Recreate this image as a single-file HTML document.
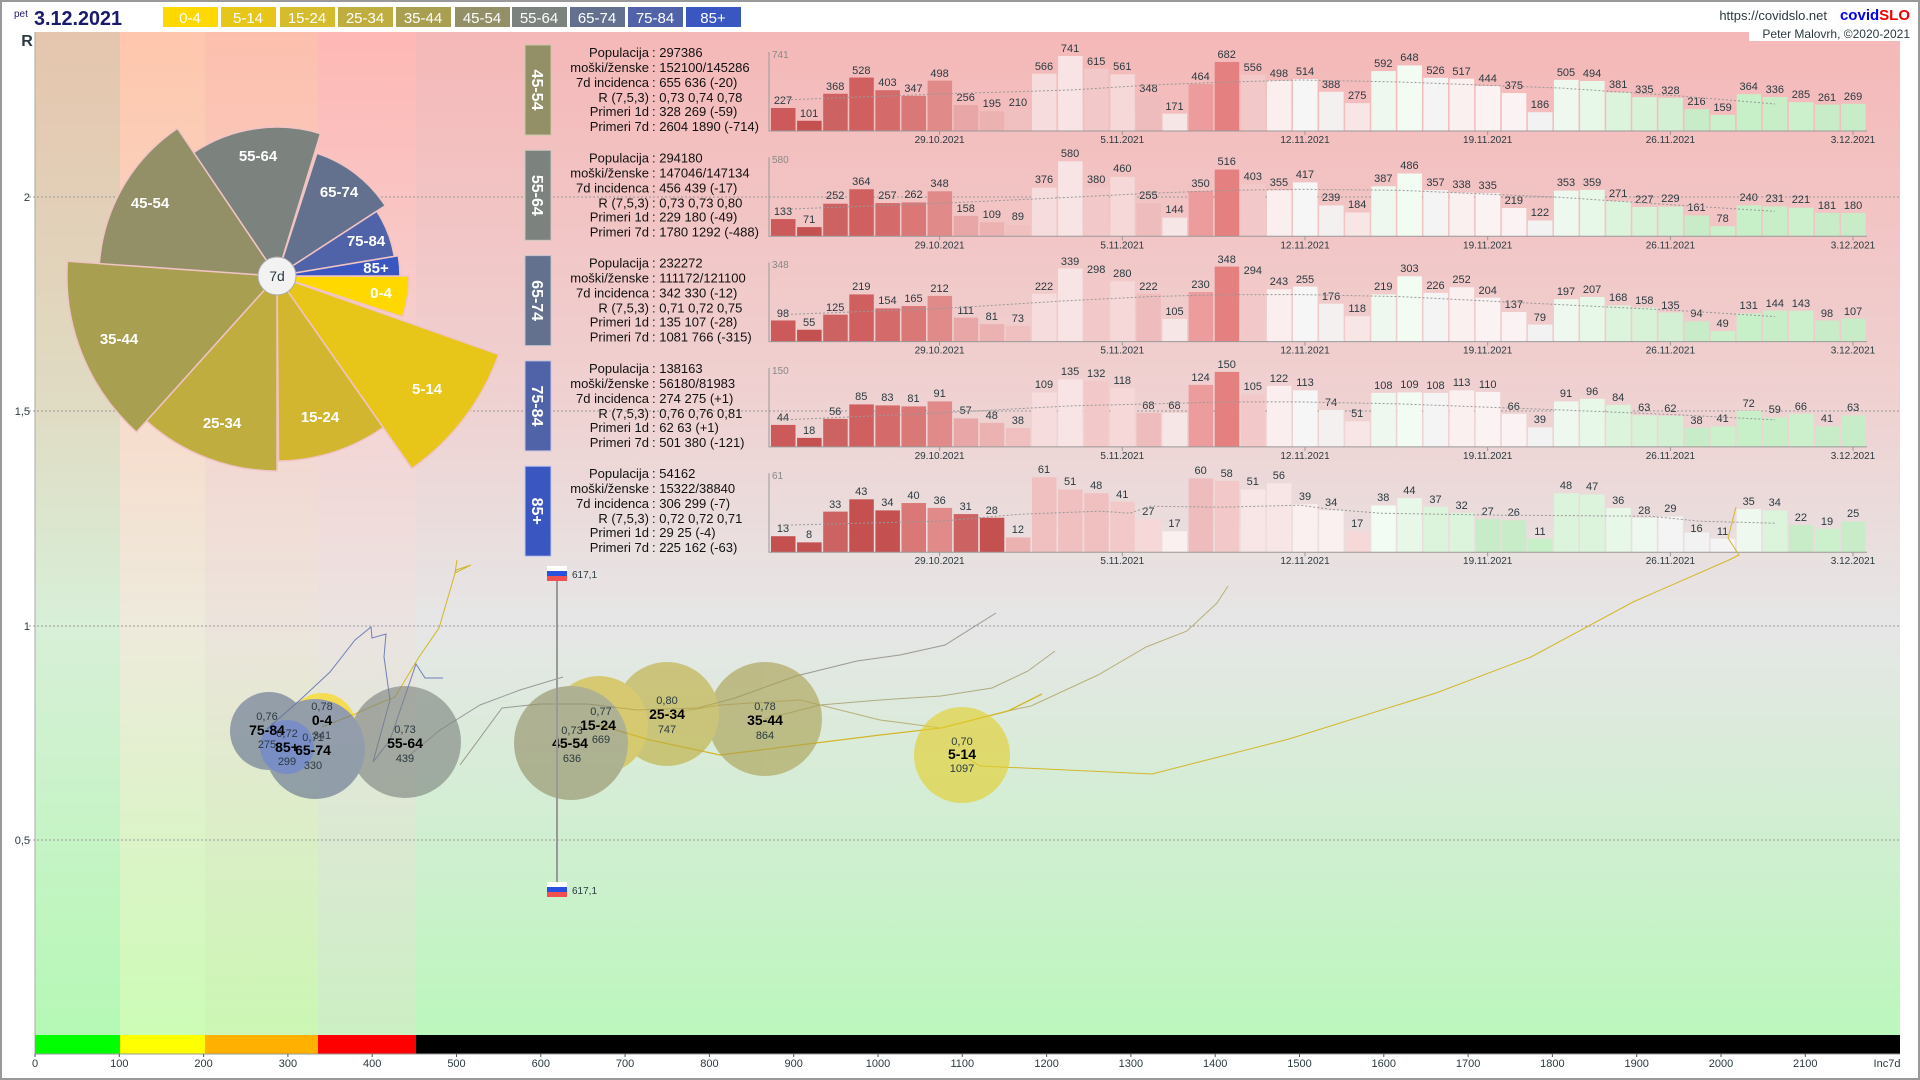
<!DOCTYPE html>
<html><head><meta charset="utf-8"><style>
html,body{margin:0;padding:0;width:1920px;height:1080px;overflow:hidden;background:#fff}
svg{display:block;font-family:"Liberation Sans",sans-serif}
.c0{fill:#cc5a5a}.c1{fill:#c45050}.c2{fill:#cc6262}.c3{fill:#d06060}.c4{fill:#d46a6a}.c5{fill:#da7878}.c6{fill:#e08a8a}.c7{fill:#e8a6a6}.c8{fill:#ecb2b2}.c9{fill:#f0c0c0}.c10{fill:#f6dcdc}.c11{fill:#f8e4e4}.c12{fill:#f2c8c8}.c13{fill:#f6d8d8}.c14{fill:#eebcbc}.c15{fill:#f6e6e6}.c16{fill:#ec9c9c}.c17{fill:#e48080}.c18{fill:#f2c8c8}.c19{fill:#faeeee}.c20{fill:#f6f6f6}.c21{fill:#f4f0f0}.c22{fill:#f8e6e6}.c23{fill:#eef8ee}.c24{fill:#f2fcf2}.c25{fill:#f4f4f4}.c26{fill:#faf0f0}.c27{fill:#fbf3f3}.c28{fill:#fbf3f3}.c29{fill:#f2f2f2}.c30{fill:#eef8ee}.c31{fill:#e8f8e8}.c32{fill:#dcf4dc}.c33{fill:#d8f2d8}.c34{fill:#d4f0d4}.c35{fill:#c8ecc8}.c36{fill:#ccf0cc}.c37{fill:#c8f0c8}.c38{fill:#c8eec8}.c39{fill:#ccf0cc}.c40{fill:#c8ecc8}.c41{fill:#c8ecc8}
.bl text{font-size:11px;fill:#2a3a40;text-anchor:middle}
.st text{font-size:13px;fill:#111}
.st .l{text-anchor:end}
.dt{font-size:10px;fill:#2a3a40;text-anchor:middle}
.pl{font-size:15px;fill:#fff;text-anchor:middle;font-weight:bold}
.bb .r{font-size:11px;fill:#2a3a40;text-anchor:middle}
.bb .n{font-size:14px;fill:#000;text-anchor:middle;font-weight:bold}
.ax{font-size:11px;fill:#2a3a40;text-anchor:middle}
</style></head><body>
<svg width="1920" height="1080" viewBox="0 0 1920 1080">
<defs>
<linearGradient id="g1" x1="0" y1="32" x2="0" y2="1035" gradientUnits="userSpaceOnUse"><stop offset="0" stop-color="#e5c5ad"/><stop offset="0.38" stop-color="#e0dcc4"/><stop offset="0.59" stop-color="#d8efd8"/><stop offset="1" stop-color="#b5f8b5"/></linearGradient>
<linearGradient id="g2" x1="0" y1="32" x2="0" y2="1035" gradientUnits="userSpaceOnUse"><stop offset="0" stop-color="#fec6ad"/><stop offset="0.38" stop-color="#f7dccc"/><stop offset="0.59" stop-color="#eeeadc"/><stop offset="1" stop-color="#ccfcb6"/></linearGradient>
<linearGradient id="g3" x1="0" y1="32" x2="0" y2="1035" gradientUnits="userSpaceOnUse"><stop offset="0" stop-color="#fdbfad"/><stop offset="0.38" stop-color="#f5d6d0"/><stop offset="0.59" stop-color="#ece4dc"/><stop offset="1" stop-color="#cbf7b3"/></linearGradient>
<linearGradient id="g4" x1="0" y1="32" x2="0" y2="1035" gradientUnits="userSpaceOnUse"><stop offset="0" stop-color="#feb8b5"/><stop offset="0.38" stop-color="#f4d4d4"/><stop offset="0.59" stop-color="#ebe3e1"/><stop offset="1" stop-color="#ccefc4"/></linearGradient>
<linearGradient id="g5" x1="0" y1="32" x2="0" y2="1035" gradientUnits="userSpaceOnUse"><stop offset="0" stop-color="#f5b8b8"/><stop offset="0.38" stop-color="#efd2d2"/><stop offset="0.59" stop-color="#e6e6e6"/><stop offset="1" stop-color="#bcf7bd"/></linearGradient>
</defs>
<rect x="1" y="1" width="1918" height="1078" fill="#fff" stroke="#999" stroke-width="2"/>
<!-- background bands -->
<rect x="35" y="32" width="85" height="1003" fill="url(#g1)"/>
<rect x="120" y="32" width="85" height="1003" fill="url(#g2)"/>
<rect x="205" y="32" width="113" height="1003" fill="url(#g3)"/>
<rect x="318" y="32" width="98" height="1003" fill="url(#g4)"/>
<rect x="416" y="32" width="1484" height="1003" fill="url(#g5)"/>
<line x1="35" y1="32" x2="35" y2="1055" stroke="#aaa"/>
<!-- grid -->
<g stroke="#999" stroke-dasharray="2,2" stroke-width="1">
<line x1="29" y1="197" x2="1900" y2="197"/><line x1="29" y1="411" x2="1900" y2="411"/><line x1="29" y1="626" x2="1900" y2="626"/><line x1="29" y1="840" x2="1900" y2="840"/>
</g>
<g font-size="11" fill="#2a3a40" text-anchor="end"><text x="30" y="201">2</text><text x="30" y="415">1,5</text><text x="30" y="630">1</text><text x="30" y="844">0,5</text></g>
<text x="27" y="46" font-size="16" font-weight="bold" fill="#2a3a40" text-anchor="middle">R</text>
<!-- header -->
<text x="14" y="17" font-size="10" fill="#1a1a6a">pet</text>
<text x="34" y="25" font-size="20" font-weight="bold" fill="#1a1a6a" textLength="88" lengthAdjust="spacingAndGlyphs">3.12.2021</text>
<g font-size="15" fill="#fff" text-anchor="middle">
<rect x="163" y="7" width="55" height="20" fill="#ffd800"/><text x="190" y="23">0-4</text>
<rect x="221" y="7" width="55" height="20" fill="#e6c619"/><text x="248" y="23">5-14</text>
<rect x="280" y="7" width="55" height="20" fill="#d4bc2e"/><text x="307" y="23">15-24</text>
<rect x="338" y="7" width="55" height="20" fill="#bfae3f"/><text x="365" y="23">25-34</text>
<rect x="396" y="7" width="55" height="20" fill="#a99f50"/><text x="423" y="23">35-44</text>
<rect x="455" y="7" width="55" height="20" fill="#938f66"/><text x="482" y="23">45-54</text>
<rect x="512" y="7" width="55" height="20" fill="#7c827e"/><text x="539" y="23">55-64</text>
<rect x="570" y="7" width="55" height="20" fill="#63718f"/><text x="597" y="23">65-74</text>
<rect x="628" y="7" width="55" height="20" fill="#5062a8"/><text x="655" y="23">75-84</text>
<rect x="686" y="7" width="55" height="20" fill="#3a56c0"/><text x="713" y="23">85+</text>
</g>
<rect x="1749" y="28" width="151" height="13" fill="#fff"/>
<text x="1827" y="20" font-size="13" fill="#2a3a40" text-anchor="end">https://covidslo.net</text>
<text x="1910" y="20" font-size="15" font-weight="bold" text-anchor="end"><tspan fill="#0000ee">covid</tspan><tspan fill="#ee0000">SLO</tspan></text>
<text x="1910" y="38" font-size="12" fill="#2a3a40" text-anchor="end">Peter Malovrh, ©2020-2021</text>

<!-- pie -->
<g stroke="#f0c4c4" stroke-width="1.5">
<path d="M277,276 L409,276 A132,132 0 0 1 402.5,316.8Z" fill="#ffd800"/>
<path d="M277,276 L498.6,354.5 A235,235 0 0 1 411.9,468.5Z" fill="#e8c619"/>
<path d="M277,276 L383.1,427.5 A185,185 0 0 1 278.6,461Z" fill="#d3b630"/>
<path d="M277,276 L277,471 A195,195 0 0 1 146.5,420.9Z" fill="#bfae3f"/>
<path d="M277,276 L136.5,432 A210,210 0 0 1 67.4,261.3Z" fill="#a99f50"/>
<path d="M277,276 L99.4,263.6 A178,178 0 0 1 177.5,128.4Z" fill="#938f66"/>
<path d="M277,276 L193.7,152.5 A149,149 0 0 1 320.5,133.6Z" fill="#7c827e"/>
<path d="M277,276 L316.9,153.3 A129,129 0 0 1 385.2,205.7Z" fill="#63718f"/>
<path d="M277,276 L376.8,211.2 A119,119 0 0 1 394.3,256.4Z" fill="#5062a8"/>
<path d="M277,276 L398.3,255.7 A123,123 0 0 1 400,276Z" fill="#3a56c0"/>
</g>
<circle cx="277" cy="276" r="19" fill="#f2f2f2" stroke="#aaa"/>
<text x="277" y="281" font-size="14" fill="#2a3a40" text-anchor="middle">7d</text>
<g class="pl">
<text x="258" y="161">55-64</text><text x="339" y="197">65-74</text><text x="366" y="246">75-84</text><text x="376" y="273">85+</text><text x="381" y="298">0-4</text><text x="427" y="394">5-14</text><text x="320" y="422">15-24</text><text x="222" y="428">25-34</text><text x="119" y="344">35-44</text><text x="150" y="208">45-54</text>
</g>

<!-- PANELS -->
<!-- panel frames -->
<g id="frames">
<g>
<rect x="525" y="45" width="26" height="90" fill="#938f66" stroke="#c8c8a8"/>
<text transform="translate(532,90) rotate(90)" font-size="16" font-weight="bold" fill="#fff" text-anchor="middle">45-54</text>
<g class="st"><text class="l" x="649" y="57">Populacija</text><text x="652" y="57">: 297386</text>
<text class="l" x="649" y="72">moški/ženske</text><text x="652" y="72">: 152100/145286</text>
<text class="l" x="649" y="87">7d incidenca</text><text x="652" y="87">: 655 636 (-20)</text>
<text class="l" x="649" y="102">R (7,5,3)</text><text x="652" y="102">: 0,73 0,74 0,78</text>
<text class="l" x="649" y="116">Primeri 1d</text><text x="652" y="116">: 328 269 (-59)</text>
<text class="l" x="649" y="131">Primeri 7d</text><text x="652" y="131">: 2604 1890 (-714)</text></g>
<text x="772" y="58" font-size="10" fill="#888">741</text>
</g>
<g>
<rect x="525" y="150.3" width="26" height="90" fill="#7c827e" stroke="#c8c8c0"/>
<text transform="translate(532,195.3) rotate(90)" font-size="16" font-weight="bold" fill="#fff" text-anchor="middle">55-64</text>
<g class="st"><text class="l" x="649" y="162.3">Populacija</text><text x="652" y="162.3">: 294180</text>
<text class="l" x="649" y="177.3">moški/ženske</text><text x="652" y="177.3">: 147046/147134</text>
<text class="l" x="649" y="192.3">7d incidenca</text><text x="652" y="192.3">: 456 439 (-17)</text>
<text class="l" x="649" y="207.3">R (7,5,3)</text><text x="652" y="207.3">: 0,73 0,73 0,80</text>
<text class="l" x="649" y="221.3">Primeri 1d</text><text x="652" y="221.3">: 229 180 (-49)</text>
<text class="l" x="649" y="236.3">Primeri 7d</text><text x="652" y="236.3">: 1780 1292 (-488)</text></g>
<text x="772" y="163" font-size="10" fill="#888">580</text>
</g>
<g>
<rect x="525" y="255.6" width="26" height="90" fill="#63718f" stroke="#c0c4d0"/>
<text transform="translate(532,300.6) rotate(90)" font-size="16" font-weight="bold" fill="#fff" text-anchor="middle">65-74</text>
<g class="st"><text class="l" x="649" y="267.6">Populacija</text><text x="652" y="267.6">: 232272</text>
<text class="l" x="649" y="282.6">moški/ženske</text><text x="652" y="282.6">: 111172/121100</text>
<text class="l" x="649" y="297.6">7d incidenca</text><text x="652" y="297.6">: 342 330 (-12)</text>
<text class="l" x="649" y="312.6">R (7,5,3)</text><text x="652" y="312.6">: 0,71 0,72 0,75</text>
<text class="l" x="649" y="326.6">Primeri 1d</text><text x="652" y="326.6">: 135 107 (-28)</text>
<text class="l" x="649" y="341.6">Primeri 7d</text><text x="652" y="341.6">: 1081 766 (-315)</text></g>
<text x="772" y="268" font-size="10" fill="#888">348</text>
</g>
<g>
<rect x="525" y="360.9" width="26" height="90" fill="#5062a8" stroke="#c0c4e0"/>
<text transform="translate(532,405.9) rotate(90)" font-size="16" font-weight="bold" fill="#fff" text-anchor="middle">75-84</text>
<g class="st"><text class="l" x="649" y="372.9">Populacija</text><text x="652" y="372.9">: 138163</text>
<text class="l" x="649" y="387.9">moški/ženske</text><text x="652" y="387.9">: 56180/81983</text>
<text class="l" x="649" y="402.9">7d incidenca</text><text x="652" y="402.9">: 274 275 (+1)</text>
<text class="l" x="649" y="417.9">R (7,5,3)</text><text x="652" y="417.9">: 0,76 0,76 0,81</text>
<text class="l" x="649" y="431.9">Primeri 1d</text><text x="652" y="431.9">: 62 63 (+1)</text>
<text class="l" x="649" y="446.9">Primeri 7d</text><text x="652" y="446.9">: 501 380 (-121)</text></g>
<text x="772" y="374" font-size="10" fill="#888">150</text>
</g>
<g>
<rect x="525" y="466.2" width="26" height="90" fill="#3a56c0" stroke="#c0c8f0"/>
<text transform="translate(532,511.2) rotate(90)" font-size="16" font-weight="bold" fill="#fff" text-anchor="middle">85+</text>
<g class="st"><text class="l" x="649" y="478.2">Populacija</text><text x="652" y="478.2">: 54162</text>
<text class="l" x="649" y="493.2">moški/ženske</text><text x="652" y="493.2">: 15322/38840</text>
<text class="l" x="649" y="508.2">7d incidenca</text><text x="652" y="508.2">: 306 299 (-7)</text>
<text class="l" x="649" y="523.2">R (7,5,3)</text><text x="652" y="523.2">: 0,72 0,72 0,71</text>
<text class="l" x="649" y="537.2">Primeri 1d</text><text x="652" y="537.2">: 29 25 (-4)</text>
<text class="l" x="649" y="552.2">Primeri 7d</text><text x="652" y="552.2">: 225 162 (-63)</text></g>
<text x="772" y="479" font-size="10" fill="#888">61</text>
</g>
</g>

<!-- bars: panel 1 -->
<g transform="translate(0,131) scale(1,-0.1012)">
<rect class="c0" x="771" y="0" width="24.5" height="227"/><rect class="c1" x="797.1" y="0" width="24.5" height="101"/><rect class="c2" x="823.2" y="0" width="24.5" height="368"/><rect class="c3" x="849.3" y="0" width="24.5" height="528"/><rect class="c4" x="875.4" y="0" width="24.5" height="403"/><rect class="c5" x="901.5" y="0" width="24.5" height="347"/><rect class="c6" x="927.6" y="0" width="24.5" height="498"/><rect class="c7" x="953.7" y="0" width="24.5" height="256"/><rect class="c8" x="979.8" y="0" width="24.5" height="195"/><rect class="c9" x="1005.9" y="0" width="24.5" height="210"/><rect class="c10" x="1032" y="0" width="24.5" height="566"/><rect class="c11" x="1058.1" y="0" width="24.5" height="741"/><rect class="c12" x="1084.2" y="0" width="24.5" height="615"/><rect class="c13" x="1110.3" y="0" width="24.5" height="561"/><rect class="c14" x="1136.4" y="0" width="24.5" height="348"/><rect class="c15" x="1162.5" y="0" width="24.5" height="171"/><rect class="c16" x="1188.6" y="0" width="24.5" height="464"/><rect class="c17" x="1214.7" y="0" width="24.5" height="682"/><rect class="c18" x="1240.8" y="0" width="24.5" height="556"/><rect class="c19" x="1266.9" y="0" width="24.5" height="498"/><rect class="c20" x="1293" y="0" width="24.5" height="514"/><rect class="c21" x="1319.1" y="0" width="24.5" height="388"/><rect class="c22" x="1345.2" y="0" width="24.5" height="275"/><rect class="c23" x="1371.3" y="0" width="24.5" height="592"/><rect class="c24" x="1397.4" y="0" width="24.5" height="648"/><rect class="c25" x="1423.5" y="0" width="24.5" height="526"/><rect class="c26" x="1449.6" y="0" width="24.5" height="517"/><rect class="c27" x="1475.7" y="0" width="24.5" height="444"/><rect class="c28" x="1501.8" y="0" width="24.5" height="375"/><rect class="c29" x="1527.9" y="0" width="24.5" height="186"/><rect class="c30" x="1554" y="0" width="24.5" height="505"/><rect class="c31" x="1580.1" y="0" width="24.5" height="494"/><rect class="c32" x="1606.2" y="0" width="24.5" height="381"/><rect class="c33" x="1632.3" y="0" width="24.5" height="335"/><rect class="c34" x="1658.4" y="0" width="24.5" height="328"/><rect class="c35" x="1684.5" y="0" width="24.5" height="216"/><rect class="c36" x="1710.6" y="0" width="24.5" height="159"/><rect class="c37" x="1736.7" y="0" width="24.5" height="364"/><rect class="c38" x="1762.8" y="0" width="24.5" height="336"/><rect class="c39" x="1788.9" y="0" width="24.5" height="285"/><rect class="c40" x="1815" y="0" width="24.5" height="261"/><rect class="c41" x="1841.1" y="0" width="24.5" height="269"/>
</g>
<g class="bl">
<text x="783" y="104">227</text><text x="809.1" y="117">101</text><text x="835.2" y="90">368</text><text x="861.3" y="74">528</text><text x="887.4" y="86">403</text><text x="913.5" y="92">347</text><text x="939.6" y="77">498</text><text x="965.7" y="101">256</text><text x="991.8" y="107">195</text><text x="1017.9" y="106">210</text><text x="1044" y="70">566</text><text x="1070.1" y="52">741</text><text x="1096.2" y="65">615</text><text x="1122.3" y="70">561</text><text x="1148.4" y="92">348</text><text x="1174.5" y="110">171</text><text x="1200.6" y="80">464</text><text x="1226.7" y="58">682</text><text x="1252.8" y="71">556</text><text x="1278.9" y="77">498</text><text x="1305" y="75">514</text><text x="1331.1" y="88">388</text><text x="1357.2" y="99">275</text><text x="1383.3" y="67">592</text><text x="1409.4" y="61">648</text><text x="1435.5" y="74">526</text><text x="1461.6" y="75">517</text><text x="1487.7" y="82">444</text><text x="1513.8" y="89">375</text><text x="1539.9" y="108">186</text><text x="1566" y="76">505</text><text x="1592.1" y="77">494</text><text x="1618.2" y="88">381</text><text x="1644.3" y="93">335</text><text x="1670.4" y="94">328</text><text x="1696.5" y="105">216</text><text x="1722.6" y="111">159</text><text x="1748.7" y="90">364</text><text x="1774.8" y="93">336</text><text x="1800.9" y="98">285</text><text x="1827" y="101">261</text><text x="1853.1" y="100">269</text>
</g>

<!-- panel 2 -->
<g transform="translate(0,236.3) scale(1,-0.1293)">
<rect class="c0" x="771" y="0" width="24.5" height="133"/><rect class="c1" x="797.1" y="0" width="24.5" height="71"/><rect class="c2" x="823.2" y="0" width="24.5" height="252"/><rect class="c3" x="849.3" y="0" width="24.5" height="364"/><rect class="c4" x="875.4" y="0" width="24.5" height="257"/><rect class="c5" x="901.5" y="0" width="24.5" height="262"/><rect class="c6" x="927.6" y="0" width="24.5" height="348"/><rect class="c7" x="953.7" y="0" width="24.5" height="158"/><rect class="c8" x="979.8" y="0" width="24.5" height="109"/><rect class="c9" x="1005.9" y="0" width="24.5" height="89"/><rect class="c10" x="1032" y="0" width="24.5" height="376"/><rect class="c11" x="1058.1" y="0" width="24.5" height="580"/><rect class="c12" x="1084.2" y="0" width="24.5" height="380"/><rect class="c13" x="1110.3" y="0" width="24.5" height="460"/><rect class="c14" x="1136.4" y="0" width="24.5" height="255"/><rect class="c15" x="1162.5" y="0" width="24.5" height="144"/><rect class="c16" x="1188.6" y="0" width="24.5" height="350"/><rect class="c17" x="1214.7" y="0" width="24.5" height="516"/><rect class="c18" x="1240.8" y="0" width="24.5" height="403"/><rect class="c19" x="1266.9" y="0" width="24.5" height="355"/><rect class="c20" x="1293" y="0" width="24.5" height="417"/><rect class="c21" x="1319.1" y="0" width="24.5" height="239"/><rect class="c22" x="1345.2" y="0" width="24.5" height="184"/><rect class="c23" x="1371.3" y="0" width="24.5" height="387"/><rect class="c24" x="1397.4" y="0" width="24.5" height="486"/><rect class="c25" x="1423.5" y="0" width="24.5" height="357"/><rect class="c26" x="1449.6" y="0" width="24.5" height="338"/><rect class="c27" x="1475.7" y="0" width="24.5" height="335"/><rect class="c28" x="1501.8" y="0" width="24.5" height="219"/><rect class="c29" x="1527.9" y="0" width="24.5" height="122"/><rect class="c30" x="1554" y="0" width="24.5" height="353"/><rect class="c31" x="1580.1" y="0" width="24.5" height="359"/><rect class="c32" x="1606.2" y="0" width="24.5" height="271"/><rect class="c33" x="1632.3" y="0" width="24.5" height="227"/><rect class="c34" x="1658.4" y="0" width="24.5" height="229"/><rect class="c35" x="1684.5" y="0" width="24.5" height="161"/><rect class="c36" x="1710.6" y="0" width="24.5" height="78"/><rect class="c37" x="1736.7" y="0" width="24.5" height="240"/><rect class="c38" x="1762.8" y="0" width="24.5" height="231"/><rect class="c39" x="1788.9" y="0" width="24.5" height="221"/><rect class="c40" x="1815" y="0" width="24.5" height="181"/><rect class="c41" x="1841.1" y="0" width="24.5" height="180"/>
</g>
<g class="bl">
<text x="783" y="215">133</text><text x="809.1" y="223">71</text><text x="835.2" y="199">252</text><text x="861.3" y="185">364</text><text x="887.4" y="199">257</text><text x="913.5" y="198">262</text><text x="939.6" y="187">348</text><text x="965.7" y="212">158</text><text x="991.8" y="218">109</text><text x="1017.9" y="220">89</text><text x="1044" y="183">376</text><text x="1070.1" y="157">580</text><text x="1096.2" y="183">380</text><text x="1122.3" y="172">460</text><text x="1148.4" y="199">255</text><text x="1174.5" y="213">144</text><text x="1200.6" y="187">350</text><text x="1226.7" y="165">516</text><text x="1252.8" y="180">403</text><text x="1278.9" y="186">355</text><text x="1305" y="178">417</text><text x="1331.1" y="201">239</text><text x="1357.2" y="208">184</text><text x="1383.3" y="182">387</text><text x="1409.4" y="169">486</text><text x="1435.5" y="186">357</text><text x="1461.6" y="188">338</text><text x="1487.7" y="189">335</text><text x="1513.8" y="204">219</text><text x="1539.9" y="216">122</text><text x="1566" y="186">353</text><text x="1592.1" y="186">359</text><text x="1618.2" y="197">271</text><text x="1644.3" y="203">227</text><text x="1670.4" y="202">229</text><text x="1696.5" y="211">161</text><text x="1722.6" y="222">78</text><text x="1748.7" y="201">240</text><text x="1774.8" y="202">231</text><text x="1800.9" y="203">221</text><text x="1827" y="209">181</text><text x="1853.1" y="209">180</text>
</g>

<!-- panel 3 -->
<g transform="translate(0,341.6) scale(1,-0.2155)">
<rect class="c0" x="771" y="0" width="24.5" height="98"/><rect class="c1" x="797.1" y="0" width="24.5" height="55"/><rect class="c2" x="823.2" y="0" width="24.5" height="125"/><rect class="c3" x="849.3" y="0" width="24.5" height="219"/><rect class="c4" x="875.4" y="0" width="24.5" height="154"/><rect class="c5" x="901.5" y="0" width="24.5" height="165"/><rect class="c6" x="927.6" y="0" width="24.5" height="212"/><rect class="c7" x="953.7" y="0" width="24.5" height="111"/><rect class="c8" x="979.8" y="0" width="24.5" height="81"/><rect class="c9" x="1005.9" y="0" width="24.5" height="73"/><rect class="c10" x="1032" y="0" width="24.5" height="222"/><rect class="c11" x="1058.1" y="0" width="24.5" height="339"/><rect class="c12" x="1084.2" y="0" width="24.5" height="298"/><rect class="c13" x="1110.3" y="0" width="24.5" height="280"/><rect class="c14" x="1136.4" y="0" width="24.5" height="222"/><rect class="c15" x="1162.5" y="0" width="24.5" height="105"/><rect class="c16" x="1188.6" y="0" width="24.5" height="230"/><rect class="c17" x="1214.7" y="0" width="24.5" height="348"/><rect class="c18" x="1240.8" y="0" width="24.5" height="294"/><rect class="c19" x="1266.9" y="0" width="24.5" height="243"/><rect class="c20" x="1293" y="0" width="24.5" height="255"/><rect class="c21" x="1319.1" y="0" width="24.5" height="176"/><rect class="c22" x="1345.2" y="0" width="24.5" height="118"/><rect class="c23" x="1371.3" y="0" width="24.5" height="219"/><rect class="c24" x="1397.4" y="0" width="24.5" height="303"/><rect class="c25" x="1423.5" y="0" width="24.5" height="226"/><rect class="c26" x="1449.6" y="0" width="24.5" height="252"/><rect class="c27" x="1475.7" y="0" width="24.5" height="204"/><rect class="c28" x="1501.8" y="0" width="24.5" height="137"/><rect class="c29" x="1527.9" y="0" width="24.5" height="79"/><rect class="c30" x="1554" y="0" width="24.5" height="197"/><rect class="c31" x="1580.1" y="0" width="24.5" height="207"/><rect class="c32" x="1606.2" y="0" width="24.5" height="168"/><rect class="c33" x="1632.3" y="0" width="24.5" height="158"/><rect class="c34" x="1658.4" y="0" width="24.5" height="135"/><rect class="c35" x="1684.5" y="0" width="24.5" height="94"/><rect class="c36" x="1710.6" y="0" width="24.5" height="49"/><rect class="c37" x="1736.7" y="0" width="24.5" height="131"/><rect class="c38" x="1762.8" y="0" width="24.5" height="144"/><rect class="c39" x="1788.9" y="0" width="24.5" height="143"/><rect class="c40" x="1815" y="0" width="24.5" height="98"/><rect class="c41" x="1841.1" y="0" width="24.5" height="107"/>
</g>
<g class="bl">
<text x="783" y="317">98</text><text x="809.1" y="326">55</text><text x="835.2" y="311">125</text><text x="861.3" y="290">219</text><text x="887.4" y="304">154</text><text x="913.5" y="302">165</text><text x="939.6" y="292">212</text><text x="965.7" y="314">111</text><text x="991.8" y="320">81</text><text x="1017.9" y="322">73</text><text x="1044" y="290">222</text><text x="1070.1" y="265">339</text><text x="1096.2" y="273">298</text><text x="1122.3" y="277">280</text><text x="1148.4" y="290">222</text><text x="1174.5" y="315">105</text><text x="1200.6" y="288">230</text><text x="1226.7" y="263">348</text><text x="1252.8" y="274">294</text><text x="1278.9" y="285">243</text><text x="1305" y="283">255</text><text x="1331.1" y="300">176</text><text x="1357.2" y="312">118</text><text x="1383.3" y="290">219</text><text x="1409.4" y="272">303</text><text x="1435.5" y="289">226</text><text x="1461.6" y="283">252</text><text x="1487.7" y="294">204</text><text x="1513.8" y="308">137</text><text x="1539.9" y="321">79</text><text x="1566" y="295">197</text><text x="1592.1" y="293">207</text><text x="1618.2" y="301">168</text><text x="1644.3" y="304">158</text><text x="1670.4" y="309">135</text><text x="1696.5" y="317">94</text><text x="1722.6" y="327">49</text><text x="1748.7" y="309">131</text><text x="1774.8" y="307">144</text><text x="1800.9" y="307">143</text><text x="1827" y="317">98</text><text x="1853.1" y="315">107</text>
</g>

<!-- panel 4 -->
<g transform="translate(0,446.9) scale(1,-0.5)">
<rect class="c0" x="771" y="0" width="24.5" height="44"/><rect class="c1" x="797.1" y="0" width="24.5" height="18"/><rect class="c2" x="823.2" y="0" width="24.5" height="56"/><rect class="c3" x="849.3" y="0" width="24.5" height="85"/><rect class="c4" x="875.4" y="0" width="24.5" height="83"/><rect class="c5" x="901.5" y="0" width="24.5" height="81"/><rect class="c6" x="927.6" y="0" width="24.5" height="91"/><rect class="c7" x="953.7" y="0" width="24.5" height="57"/><rect class="c8" x="979.8" y="0" width="24.5" height="48"/><rect class="c9" x="1005.9" y="0" width="24.5" height="38"/><rect class="c10" x="1032" y="0" width="24.5" height="109"/><rect class="c11" x="1058.1" y="0" width="24.5" height="135"/><rect class="c12" x="1084.2" y="0" width="24.5" height="132"/><rect class="c13" x="1110.3" y="0" width="24.5" height="118"/><rect class="c14" x="1136.4" y="0" width="24.5" height="68"/><rect class="c15" x="1162.5" y="0" width="24.5" height="68"/><rect class="c16" x="1188.6" y="0" width="24.5" height="124"/><rect class="c17" x="1214.7" y="0" width="24.5" height="150"/><rect class="c18" x="1240.8" y="0" width="24.5" height="105"/><rect class="c19" x="1266.9" y="0" width="24.5" height="122"/><rect class="c20" x="1293" y="0" width="24.5" height="113"/><rect class="c21" x="1319.1" y="0" width="24.5" height="74"/><rect class="c22" x="1345.2" y="0" width="24.5" height="51"/><rect class="c23" x="1371.3" y="0" width="24.5" height="108"/><rect class="c24" x="1397.4" y="0" width="24.5" height="109"/><rect class="c25" x="1423.5" y="0" width="24.5" height="108"/><rect class="c26" x="1449.6" y="0" width="24.5" height="113"/><rect class="c27" x="1475.7" y="0" width="24.5" height="110"/><rect class="c28" x="1501.8" y="0" width="24.5" height="66"/><rect class="c29" x="1527.9" y="0" width="24.5" height="39"/><rect class="c30" x="1554" y="0" width="24.5" height="91"/><rect class="c31" x="1580.1" y="0" width="24.5" height="96"/><rect class="c32" x="1606.2" y="0" width="24.5" height="84"/><rect class="c33" x="1632.3" y="0" width="24.5" height="63"/><rect class="c34" x="1658.4" y="0" width="24.5" height="62"/><rect class="c35" x="1684.5" y="0" width="24.5" height="38"/><rect class="c36" x="1710.6" y="0" width="24.5" height="41"/><rect class="c37" x="1736.7" y="0" width="24.5" height="72"/><rect class="c38" x="1762.8" y="0" width="24.5" height="59"/><rect class="c39" x="1788.9" y="0" width="24.5" height="66"/><rect class="c40" x="1815" y="0" width="24.5" height="41"/><rect class="c41" x="1841.1" y="0" width="24.5" height="63"/>
</g>
<g class="bl">
<text x="783" y="421">44</text><text x="809.1" y="434">18</text><text x="835.2" y="415">56</text><text x="861.3" y="400">85</text><text x="887.4" y="401">83</text><text x="913.5" y="402">81</text><text x="939.6" y="397">91</text><text x="965.7" y="414">57</text><text x="991.8" y="419">48</text><text x="1017.9" y="424">38</text><text x="1044" y="388">109</text><text x="1070.1" y="375">135</text><text x="1096.2" y="377">132</text><text x="1122.3" y="384">118</text><text x="1148.4" y="409">68</text><text x="1174.5" y="409">68</text><text x="1200.6" y="381">124</text><text x="1226.7" y="368">150</text><text x="1252.8" y="390">105</text><text x="1278.9" y="382">122</text><text x="1305" y="386">113</text><text x="1331.1" y="406">74</text><text x="1357.2" y="417">51</text><text x="1383.3" y="389">108</text><text x="1409.4" y="388">109</text><text x="1435.5" y="389">108</text><text x="1461.6" y="386">113</text><text x="1487.7" y="388">110</text><text x="1513.8" y="410">66</text><text x="1539.9" y="423">39</text><text x="1566" y="397">91</text><text x="1592.1" y="395">96</text><text x="1618.2" y="401">84</text><text x="1644.3" y="411">63</text><text x="1670.4" y="412">62</text><text x="1696.5" y="424">38</text><text x="1722.6" y="422">41</text><text x="1748.7" y="407">72</text><text x="1774.8" y="413">59</text><text x="1800.9" y="410">66</text><text x="1827" y="422">41</text><text x="1853.1" y="411">63</text>
</g>

<!-- panel 5 -->
<g transform="translate(0,552.2) scale(1,-1.2295)">
<rect class="c1" x="771" y="0" width="24.5" height="13"/><rect class="c1" x="797.1" y="0" width="24.5" height="8"/><rect class="c2" x="823.2" y="0" width="24.5" height="33"/><rect class="c1" x="849.3" y="0" width="24.5" height="43"/><rect class="c1" x="875.4" y="0" width="24.5" height="34"/><rect class="c5" x="901.5" y="0" width="24.5" height="40"/><rect class="c6" x="927.6" y="0" width="24.5" height="36"/><rect class="c2" x="953.7" y="0" width="24.5" height="31"/><rect class="c1" x="979.8" y="0" width="24.5" height="28"/><rect class="c8" x="1005.9" y="0" width="24.5" height="12"/><rect class="c9" x="1032" y="0" width="24.5" height="61"/><rect class="c9" x="1058.1" y="0" width="24.5" height="51"/><rect class="c9" x="1084.2" y="0" width="24.5" height="48"/><rect class="c12" x="1110.3" y="0" width="24.5" height="41"/><rect class="c13" x="1136.4" y="0" width="24.5" height="27"/><rect class="c26" x="1162.5" y="0" width="24.5" height="17"/><rect class="c14" x="1188.6" y="0" width="24.5" height="60"/><rect class="c18" x="1214.7" y="0" width="24.5" height="58"/><rect class="c22" x="1240.8" y="0" width="24.5" height="51"/><rect class="c22" x="1266.9" y="0" width="24.5" height="56"/><rect class="c26" x="1293" y="0" width="24.5" height="39"/><rect class="c26" x="1319.1" y="0" width="24.5" height="34"/><rect class="c13" x="1345.2" y="0" width="24.5" height="17"/><rect class="c24" x="1371.3" y="0" width="24.5" height="38"/><rect class="c31" x="1397.4" y="0" width="24.5" height="44"/><rect class="c32" x="1423.5" y="0" width="24.5" height="37"/><rect class="c32" x="1449.6" y="0" width="24.5" height="32"/><rect class="c35" x="1475.7" y="0" width="24.5" height="27"/><rect class="c35" x="1501.8" y="0" width="24.5" height="26"/><rect class="c37" x="1527.9" y="0" width="24.5" height="11"/><rect class="c32" x="1554" y="0" width="24.5" height="48"/><rect class="c32" x="1580.1" y="0" width="24.5" height="47"/><rect class="c31" x="1606.2" y="0" width="24.5" height="36"/><rect class="c30" x="1632.3" y="0" width="24.5" height="28"/><rect class="c25" x="1658.4" y="0" width="24.5" height="29"/><rect class="c29" x="1684.5" y="0" width="24.5" height="16"/><rect class="c25" x="1710.6" y="0" width="24.5" height="11"/><rect class="c30" x="1736.7" y="0" width="24.5" height="35"/><rect class="c32" x="1762.8" y="0" width="24.5" height="34"/><rect class="c35" x="1788.9" y="0" width="24.5" height="22"/><rect class="c36" x="1815" y="0" width="24.5" height="19"/><rect class="c35" x="1841.1" y="0" width="24.5" height="25"/>
</g>
<g class="bl">
<text x="783" y="532">13</text><text x="809.1" y="538">8</text><text x="835.2" y="508">33</text><text x="861.3" y="495">43</text><text x="887.4" y="506">34</text><text x="913.5" y="499">40</text><text x="939.6" y="504">36</text><text x="965.7" y="510">31</text><text x="991.8" y="514">28</text><text x="1017.9" y="533">12</text><text x="1044" y="473">61</text><text x="1070.1" y="485">51</text><text x="1096.2" y="489">48</text><text x="1122.3" y="498">41</text><text x="1148.4" y="515">27</text><text x="1174.5" y="527">17</text><text x="1200.6" y="474">60</text><text x="1226.7" y="477">58</text><text x="1252.8" y="485">51</text><text x="1278.9" y="479">56</text><text x="1305" y="500">39</text><text x="1331.1" y="506">34</text><text x="1357.2" y="527">17</text><text x="1383.3" y="501">38</text><text x="1409.4" y="494">44</text><text x="1435.5" y="503">37</text><text x="1461.6" y="509">32</text><text x="1487.7" y="515">27</text><text x="1513.8" y="516">26</text><text x="1539.9" y="535">11</text><text x="1566" y="489">48</text><text x="1592.1" y="490">47</text><text x="1618.2" y="504">36</text><text x="1644.3" y="514">28</text><text x="1670.4" y="512">29</text><text x="1696.5" y="532">16</text><text x="1722.6" y="535">11</text><text x="1748.7" y="505">35</text><text x="1774.8" y="506">34</text><text x="1800.9" y="521">22</text><text x="1827" y="525">19</text><text x="1853.1" y="517">25</text>
</g>

<!-- axes, dates, trend for each panel -->
<g id="pax">
<g>
<polyline points="783,100 940,94 1070,90 1150,85 1230,82 1300,80 1400,82 1560,88 1680,96 1775,104" fill="none" stroke="#999" stroke-dasharray="2,2"/>
<path d="M769,52 V131 H1867 M939.6,131 v4 M1122.3,131 v4 M1305,131 v4 M1487.7,131 v4 M1670.4,131 v4 M1853,131 v4" stroke="#999" fill="none"/>
<g class="dt"><text x="939.6" y="143">29.10.2021</text><text x="1122.3" y="143">5.11.2021</text><text x="1305" y="143">12.11.2021</text><text x="1487.7" y="143">19.11.2021</text><text x="1670.4" y="143">26.11.2021</text><text x="1853" y="143">3.12.2021</text></g>
</g>
<g transform="translate(0,105.3)">
<polyline points="783,104 940,98 1070,92 1150,88 1230,85 1300,84 1400,85 1560,92 1680,100 1775,106" fill="none" stroke="#999" stroke-dasharray="2,2"/>
<path d="M769,52 V131 H1867 M939.6,131 v4 M1122.3,131 v4 M1305,131 v4 M1487.7,131 v4 M1670.4,131 v4 M1853,131 v4" stroke="#999" fill="none"/>
<g class="dt"><text x="939.6" y="143">29.10.2021</text><text x="1122.3" y="143">5.11.2021</text><text x="1305" y="143">12.11.2021</text><text x="1487.7" y="143">19.11.2021</text><text x="1670.4" y="143">26.11.2021</text><text x="1853" y="143">3.12.2021</text></g>
</g>
<g transform="translate(0,210.6)">
<polyline points="783,104 940,98 1070,90 1150,86 1230,84 1300,84 1400,86 1560,94 1680,100 1775,106" fill="none" stroke="#999" stroke-dasharray="2,2"/>
<path d="M769,52 V131 H1867 M939.6,131 v4 M1122.3,131 v4 M1305,131 v4 M1487.7,131 v4 M1670.4,131 v4 M1853,131 v4" stroke="#999" fill="none"/>
<g class="dt"><text x="939.6" y="143">29.10.2021</text><text x="1122.3" y="143">5.11.2021</text><text x="1305" y="143">12.11.2021</text><text x="1487.7" y="143">19.11.2021</text><text x="1670.4" y="143">26.11.2021</text><text x="1853" y="143">3.12.2021</text></g>
</g>
<g transform="translate(0,315.9)">
<polyline points="783,104 940,97 1070,90 1150,88 1230,86 1300,86 1400,88 1560,94 1680,99 1775,104" fill="none" stroke="#999" stroke-dasharray="2,2"/>
<path d="M769,52 V131 H1867 M939.6,131 v4 M1122.3,131 v4 M1305,131 v4 M1487.7,131 v4 M1670.4,131 v4 M1853,131 v4" stroke="#999" fill="none"/>
<g class="dt"><text x="939.6" y="143">29.10.2021</text><text x="1122.3" y="143">5.11.2021</text><text x="1305" y="143">12.11.2021</text><text x="1487.7" y="143">19.11.2021</text><text x="1670.4" y="143">26.11.2021</text><text x="1853" y="143">3.12.2021</text></g>
</g>
<g transform="translate(0,421.2)">
<polyline points="783,104 940,100 1020,93 1100,90 1130,92 1150,85 1220,86 1300,84 1330,88 1380,92 1500,94 1650,95 1700,100 1775,102" fill="none" stroke="#999" stroke-dasharray="2,2"/>
<path d="M769,52 V131 H1867 M939.6,131 v4 M1122.3,131 v4 M1305,131 v4 M1487.7,131 v4 M1670.4,131 v4 M1853,131 v4" stroke="#999" fill="none"/>
<g class="dt"><text x="939.6" y="143">29.10.2021</text><text x="1122.3" y="143">5.11.2021</text><text x="1305" y="143">12.11.2021</text><text x="1487.7" y="143">19.11.2021</text><text x="1670.4" y="143">26.11.2021</text><text x="1853" y="143">3.12.2021</text></g>
</g>
</g>

<!-- trail lines -->
<g fill="none" stroke-width="1">
<polyline stroke="#d4b62a" points="962,755 980,766 1152,774 1289,739 1436,693 1531,657 1633,602 1729,560 1739,555 1728,538 1736,507"/>
<polyline stroke="#d4b62a" points="322,727 355,714 380,703 395,697 419,657 439,628 456,570 471,565 455,573 457,560"/>
<polyline stroke="#7080b8" points="267,729 300,700 330,672 355,640 371,627 372,638 386,634 384,657 390,700 373,762 390,740 416,664 425,678 443,678"/>
<polyline stroke="#9a9a9a" points="405,759 440,730 480,705 520,690 563,677"/>
<polyline stroke="#9a9a90" points="460,765 502,708 539,704 588,704 637,710 698,708 735,698 796,676 857,661 900,655 945,645 996,613"/>
<polyline stroke="#b0aa80" points="765,719 820,705 880,700 941,696 992,688 1028,671 1055,651"/>
<polyline stroke="#b8b078" points="667,714 720,705 800,700 880,720 941,728 1012,710 1031,706 1098,675 1146,647 1187,631 1217,603 1228,586"/>
<polyline stroke="#d4b62a" stroke-width="1.3" points="599,725 650,740 720,755 800,745 880,735 941,728 1008,711 1042,694"/>
</g>

<!-- bubbles -->
<g opacity="0.62">
<circle cx="765" cy="719" r="57" fill="#a99f50"/>
<circle cx="667" cy="714" r="52" fill="#bfae3f"/>
<circle cx="599" cy="725" r="49" fill="#d3b630"/>
<circle cx="571" cy="743" r="57" fill="#938f66"/>
<circle cx="962" cy="755" r="48" fill="#e2cf2a"/>
<circle cx="405" cy="742" r="56" fill="#7c827e"/>
<circle cx="322" cy="727" r="34" fill="#ffd800"/>
<circle cx="269" cy="731" r="39" fill="#63718f"/>
<circle cx="315" cy="749" r="50" fill="#63718f"/>
<circle cx="287" cy="747" r="27" fill="#3a56c0"/>
</g>
<g class="bb">
<text class="r" x="765" y="710">0,78</text><text class="n" x="765" y="725">35-44</text><text class="r" x="765" y="739">864</text>
<text class="r" x="667" y="704">0,80</text><text class="n" x="667" y="719">25-34</text><text class="r" x="667" y="733">747</text>
<text class="r" x="601" y="715">0,77</text><text class="n" x="598" y="730">15-24</text><text class="r" x="601" y="743">669</text>
<text class="r" x="572" y="734">0,73</text><text class="n" x="570" y="748">45-54</text><text class="r" x="572" y="762">636</text>
<text class="r" x="962" y="745">0,70</text><text class="n" x="962" y="759">5-14</text><text class="r" x="962" y="772">1097</text>
<text class="r" x="405" y="733">0,73</text><text class="n" x="405" y="748">55-64</text><text class="r" x="405" y="762">439</text>
<text class="r" x="322" y="710">0,78</text><text class="n" x="322" y="725">0-4</text><text class="r" x="322" y="739">341</text>
<text class="r" x="313" y="741">0,71</text><text class="n" x="313" y="755">65-74</text><text class="r" x="313" y="769">330</text>
<text class="r" x="267" y="720">0,76</text><text class="n" x="267" y="735">75-84</text><text class="r" x="267" y="748">275</text>
<text class="r" x="287" y="737">0,72</text><text class="n" x="287" y="752">85+</text><text class="r" x="287" y="765">299</text>
</g>

<!-- Slovenia marker -->
<line x1="557" y1="578" x2="557" y2="883" stroke="#999" stroke-width="2"/>
<g>
<rect x="547" y="566" width="20" height="5" fill="#fff"/><rect x="547" y="571" width="20" height="5" fill="#2a50e0"/><rect x="547" y="576" width="20" height="5" fill="#f05050"/>
<text x="572" y="578" font-size="10" fill="#2a3a40">617,1</text>
<rect x="547" y="882" width="20" height="5" fill="#fff"/><rect x="547" y="887" width="20" height="5" fill="#2a50e0"/><rect x="547" y="892" width="20" height="5" fill="#f05050"/>
<text x="572" y="894" font-size="10" fill="#2a3a40">617,1</text>
</g>

<!-- bottom color bar and axis -->
<rect x="35" y="1035" width="85" height="19" fill="#00ff00"/>
<rect x="120" y="1035" width="85" height="19" fill="#ffff00"/>
<rect x="205" y="1035" width="113" height="19" fill="#ffb000"/>
<rect x="318" y="1035" width="98" height="19" fill="#ff0000"/>
<rect x="416" y="1035" width="1484" height="19" fill="#000"/>
<line x1="35" y1="1054" x2="1900" y2="1054" stroke="#999"/>
<g stroke="#555"><path d="M35,1054v3M119.3,1054v3M203.6,1054v3M287.9,1054v3M372.2,1054v3M456.5,1054v3M540.8,1054v3M625.1,1054v3M709.4,1054v3M793.7,1054v3M878,1054v3M962.3,1054v3M1046.6,1054v3M1130.9,1054v3M1215.2,1054v3M1299.5,1054v3M1383.8,1054v3M1468.1,1054v3M1552.4,1054v3M1636.7,1054v3M1721,1054v3M1805.3,1054v3"/></g>
<g class="ax">
<text x="35" y="1067">0</text><text x="119.3" y="1067">100</text><text x="203.6" y="1067">200</text><text x="287.9" y="1067">300</text><text x="372.2" y="1067">400</text><text x="456.5" y="1067">500</text><text x="540.8" y="1067">600</text><text x="625.1" y="1067">700</text><text x="709.4" y="1067">800</text><text x="793.7" y="1067">900</text><text x="878" y="1067">1000</text><text x="962.3" y="1067">1100</text><text x="1046.6" y="1067">1200</text><text x="1130.9" y="1067">1300</text><text x="1215.2" y="1067">1400</text><text x="1299.5" y="1067">1500</text><text x="1383.8" y="1067">1600</text><text x="1468.1" y="1067">1700</text><text x="1552.4" y="1067">1800</text><text x="1636.7" y="1067">1900</text><text x="1721" y="1067">2000</text><text x="1805.3" y="1067">2100</text><text x="1887" y="1067">Inc7d</text>
</g>
</svg>
</body></html>
